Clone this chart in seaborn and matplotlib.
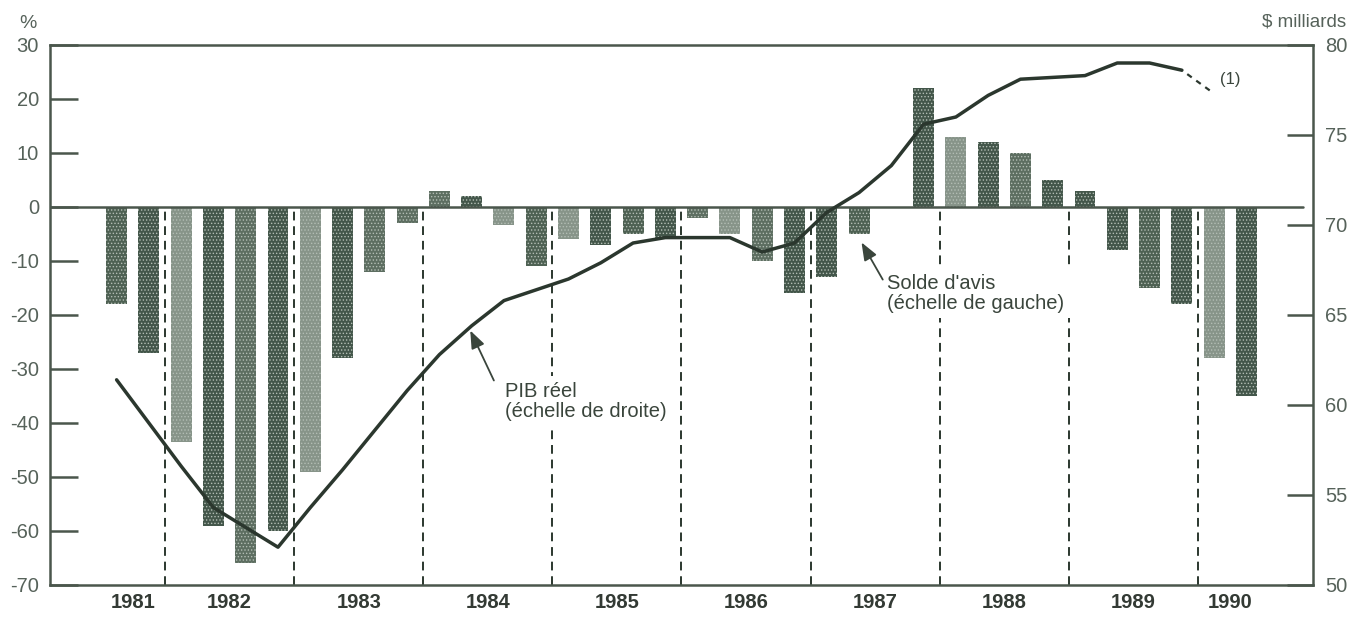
import numpy as np
import pandas as pd
import matplotlib
matplotlib.use("Agg")
import matplotlib.pyplot as plt
import seaborn as sns

# ---------------- data ----------------
years = [1981] * 2 + [y for y in range(1982, 1990) for _ in range(4)] + [1990] * 2
quarters = [3, 4] + [1, 2, 3, 4] * 8 + [1, 2]
solde = [-18, -27,
         -43.5, -59, -66, -60,
         -49, -28, -12, -3,
         3, 2, -3.3, -11,
         -6, -7, -5, -6,
         -2, -5, -10, -16,
         -13, -5, 0, 22,
         13, 12, 10, 5,
         3, -8, -15, -18,
         -28, -35]
pib = [61.4, 59.0,
       56.6, 54.3, 53.2, 52.1,
       54.3, 56.4, 58.6, 60.8,
       62.8, 64.4, 65.8, 66.4,
       67.0, 67.9, 69.0, 69.3,
       69.3, 69.3, 68.5, 69.0,
       70.7, 71.8, 73.3, 75.6,
       76.0, 77.2, 78.1, 78.2,
       78.3, 79.0, 79.0, 78.6]
pib_proj = [78.6, 77.3]          # 1989 T4 -> 1990 T1 (note 1)
year_labels = ["1981", "1982", "1983", "1984", "1985", "1986", "1987", "1988", "1989", "1990"]
left_ticks = [30, 20, 10, 0, -10, -20, -30, -40, -50, -60, -70]
right_ticks = [80, 75, 70, 65, 60, 55, 50]

# bar shades (style)
D, M, L, K = "#43564a", "#5d6e61", "#879489", "#4e6153"
shades = [K, D, L, D, M, D, L, D, M, M, M, D, L, K, L, D, K, D,
          M, L, M, D, D, K, D, D, L, D, M, D, D, D, K, D, L, D]

# ---------------- figure ----------------
sns.set_theme(style="white")
plt.rcParams["font.family"] = ["Liberation Sans", "DejaVu Sans"]
plt.rcParams["hatch.linewidth"] = 0.6

W, H = 1353, 622
fig = plt.figure(figsize=(W / 100, H / 100), dpi=100)
fig.patch.set_facecolor("white")
ax = fig.add_axes([50 / W, 1 - 585 / H, (1313 - 50) / W, 540 / H])

tpos = [y + (q - 0.5) / 4 for y, q in zip(years, quarters)]
df = pd.DataFrame({"t": tpos, "solde": solde})
sns.barplot(data=df, x="t", y="solde", native_scale=True, width=0.65,
            errorbar=None, color=D, ax=ax, zorder=2)
for p, c in zip(ax.patches, shades):
    p.set_facecolor(c)
    p.set_edgecolor("#b3bdb4")
    p.set_hatch(".....")
    p.set_linewidth(0)

ink = "#2b372e"
frame = "#4a564c"

# year dividers
dividers = sorted(set(years))[1:]
ax.vlines(dividers, -70, 0, colors=ink, linestyles=(0, (4.5, 3)), linewidth=1.4, zorder=1)
ax.axhline(0, xmin=0, xmax=(1303 - 50) / (1313 - 50), color=frame, lw=1.8, zorder=3)

x0 = 1981 + (50 - 35.9) / 129.1
x1 = 1990 + (1313 - 1198) / 129.1
ax.set_xlim(x0, x1)
ax.set_ylim(-70, 30)
ax.set_yticks(left_ticks)
ax.set_yticklabels([str(v) for v in left_ticks])
label_pos = [1981.75] + [y + 0.5 for y in range(1982, 1990)] + [1990.25]
ax.set_xticks(label_pos)
ax.set_xticklabels(year_labels, fontweight="bold", fontsize=14.5, color="#333a34")
ax.set_xlabel("")
ax.set_ylabel("")
ax.tick_params(axis="x", length=0, pad=6)
ax.tick_params(axis="y", direction="in", length=20, width=1.8, color=frame,
               labelsize=14.5, labelcolor="#56625a", pad=8, left=True)
for s in ax.spines.values():
    s.set_visible(True)
    s.set_color(frame)
    s.set_linewidth(1.8)

# line on right axis
ax2 = ax.twinx()
tline = tpos[:len(pib)]
sns.lineplot(x=tline, y=pib, ax=ax2, color=ink, lw=2.5, zorder=4)
tproj = [tpos[len(pib) - 1], tpos[len(pib)]]
sns.lineplot(x=tproj, y=pib_proj, ax=ax2, color=ink, lw=1.6,
             linestyle=(2, (2.5, 2.5)), zorder=4)
ax2.set_ylim(50, 80)
ax2.set_yticks(right_ticks)
ax2.set_yticklabels([str(v) for v in right_ticks])
ax2.tick_params(axis="y", direction="in", length=19, width=1.8, color=frame,
                labelsize=14.5, labelcolor="#56625a", pad=9, right=True)
for s in ax2.spines.values():
    s.set_visible(False)
ax2.set_xlim(x0, x1)
ax2.grid(False)
ax.grid(False)

# annotations
ax2.text(1990 + (1220 - 1198) / 129.1, 78.1, "(1)", fontsize=12, color="#3a453c",
         va="center", ha="left")

def px2year(px):
    return 1981 + (px - 35.9) / 129.1

def py2right(py):
    return 80 - (py - 45) / 18.0

def py2left(py):
    return (207 - py) / 5.4

ax2.text(px2year(505), py2right(382), "PIB réel\n(échelle de droite)", fontsize=14.5,
         color="#3a453c", va="top", ha="left", linespacing=1.05, zorder=5,
         bbox=dict(facecolor="white", edgecolor="none", pad=4))
ax2.annotate("", xy=(px2year(469), py2right(328)), xytext=(px2year(495), py2right(383)),
             arrowprops=dict(arrowstyle="-|>,head_length=0.9,head_width=0.35",
                             color="#3a453c", lw=1.3), zorder=6)

ax.text(px2year(887), py2left(274), "Solde d'avis\n(échelle de gauche)", fontsize=14.5,
        color="#3a453c", va="top", ha="left", linespacing=1.05, zorder=5,
        bbox=dict(facecolor="white", edgecolor="none", pad=4))
ax.annotate("", xy=(px2year(860), py2left(240)), xytext=(px2year(884), py2left(282)),
            arrowprops=dict(arrowstyle="-|>,head_length=0.9,head_width=0.35",
                            color="#3a453c", lw=1.3), zorder=6)

fig.text(28 / W, 1 - 23 / H, "%", fontsize=14, color="#56625a", ha="center", va="center")
fig.text(1346 / W, 1 - 22 / H, "$ milliards", fontsize=13.5, color="#56625a",
         ha="right", va="center")

fig.savefig("out.png", dpi=100, facecolor="white")
